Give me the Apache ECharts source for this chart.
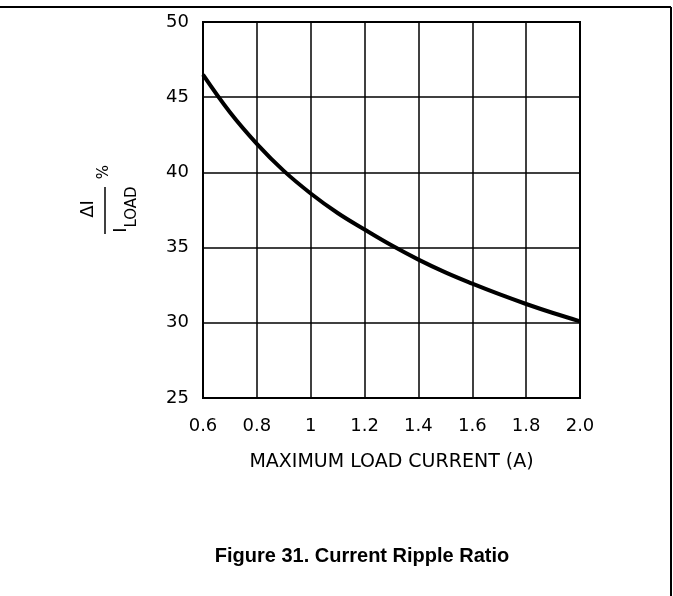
<!DOCTYPE html>
<html>
<head>
<meta charset="utf-8">
<script src="https://cdn.jsdelivr.net/npm/echarts@6/dist/echarts.min.js"></script>
<style>html,body{margin:0;padding:0;background:#fff;}#c{width:673px;height:596px;}</style>
</head>
<body>
<div id="c"></div>
<script>
const xValues = [0.6, 0.7, 0.8, 0.9, 1.0, 1.1, 1.2, 1.3, 1.4, 1.5, 1.6, 1.7, 1.8, 1.9, 2.0];
const rippleRatio = [46.5, 44.0, 41.9, 40.1, 38.6, 37.3, 36.2, 35.15, 34.2, 33.35, 32.6, 31.9, 31.25, 30.65, 30.1];
const xTickLabels = ['0.6', '0.8', '1', '1.2', '1.4', '1.6', '1.8', '2.0'];
const yTickLabels = ['25', '30', '35', '40', '45', '50'];
const xAxisTitle = 'MAXIMUM LOAD CURRENT (A)';
const figureTitle = 'Figure 31. Current Ripple Ratio';

const tickFont = 'DejaVu Sans, sans-serif';
const chart = echarts.init(document.getElementById('c'), null, {renderer: 'canvas'});
const data = xValues.map((x, i) => [x, rippleRatio[i]]);

chart.setOption({
  animation: false,
  backgroundColor: '#fff',
  grid: {left: 203, right: 93, top: 22, bottom: 198, show: true, borderColor: '#000', borderWidth: 2, backgroundColor: 'transparent'},
  xAxis: {
    type: 'value', min: 0.6, max: 2.0, interval: 0.2,
    axisLine: {show: false}, axisTick: {show: false},
    splitLine: {show: true, lineStyle: {color: '#000', width: 1.5}},
    axisLabel: {
      margin: 19, color: '#000', fontFamily: tickFont, fontSize: 18,
      formatter: v => xTickLabels[Math.round((v - 0.6) / 0.2)]
    },
    name: xAxisTitle, nameLocation: 'middle', nameGap: 55,
    nameTextStyle: {color: '#000', fontFamily: tickFont, fontSize: 19}
  },
  yAxis: {
    type: 'value', min: 25, max: 50, interval: 5,
    axisLine: {show: false}, axisTick: {show: false},
    splitLine: {show: true, lineStyle: {color: '#000', width: 1.5}},
    axisLabel: {
      margin: 14, color: '#000', fontFamily: tickFont, fontSize: 18,
      formatter: v => yTickLabels[Math.round((v - 25) / 5)]
    }
  },
  series: [{
    type: 'line', data: data, smooth: 0.4, showSymbol: false,
    lineStyle: {color: '#000', width: 4}, z: 5
  }],
  graphic: [
    {type: 'line', shape: {x1: 0, y1: 7, x2: 671, y2: 7}, style: {stroke: '#000', lineWidth: 2}},
    {type: 'line', shape: {x1: 671, y1: 7, x2: 671, y2: 596}, style: {stroke: '#000', lineWidth: 2}},
    {type: 'text', x: 88, y: 209, rotation: Math.PI / 2, style: {text: 'ΔI', font: '18px ' + tickFont, fill: '#000', textAlign: 'center', textVerticalAlign: 'middle'}},
    {type: 'line', shape: {x1: 105, y1: 187, x2: 105, y2: 234}, style: {stroke: '#000', lineWidth: 1.5}},
    {type: 'text', x: 121, y: 230, rotation: Math.PI / 2, style: {text: 'I', font: '18px ' + tickFont, fill: '#000', textAlign: 'center', textVerticalAlign: 'middle'}},
    {type: 'text', x: 132, y: 207, rotation: Math.PI / 2, style: {text: 'LOAD', font: '15px ' + tickFont, fill: '#000', textAlign: 'center', textVerticalAlign: 'middle'}},
    {type: 'text', x: 104, y: 172, rotation: Math.PI / 2, style: {text: '%', font: '15px ' + tickFont, fill: '#000', textAlign: 'center', textVerticalAlign: 'middle'}},
    {type: 'text', x: 362, y: 556, style: {text: figureTitle, font: 'bold 20px Liberation Sans, Arial, sans-serif', fill: '#000', textAlign: 'center', textVerticalAlign: 'middle'}}
  ]
});
</script>
</body>
</html>
